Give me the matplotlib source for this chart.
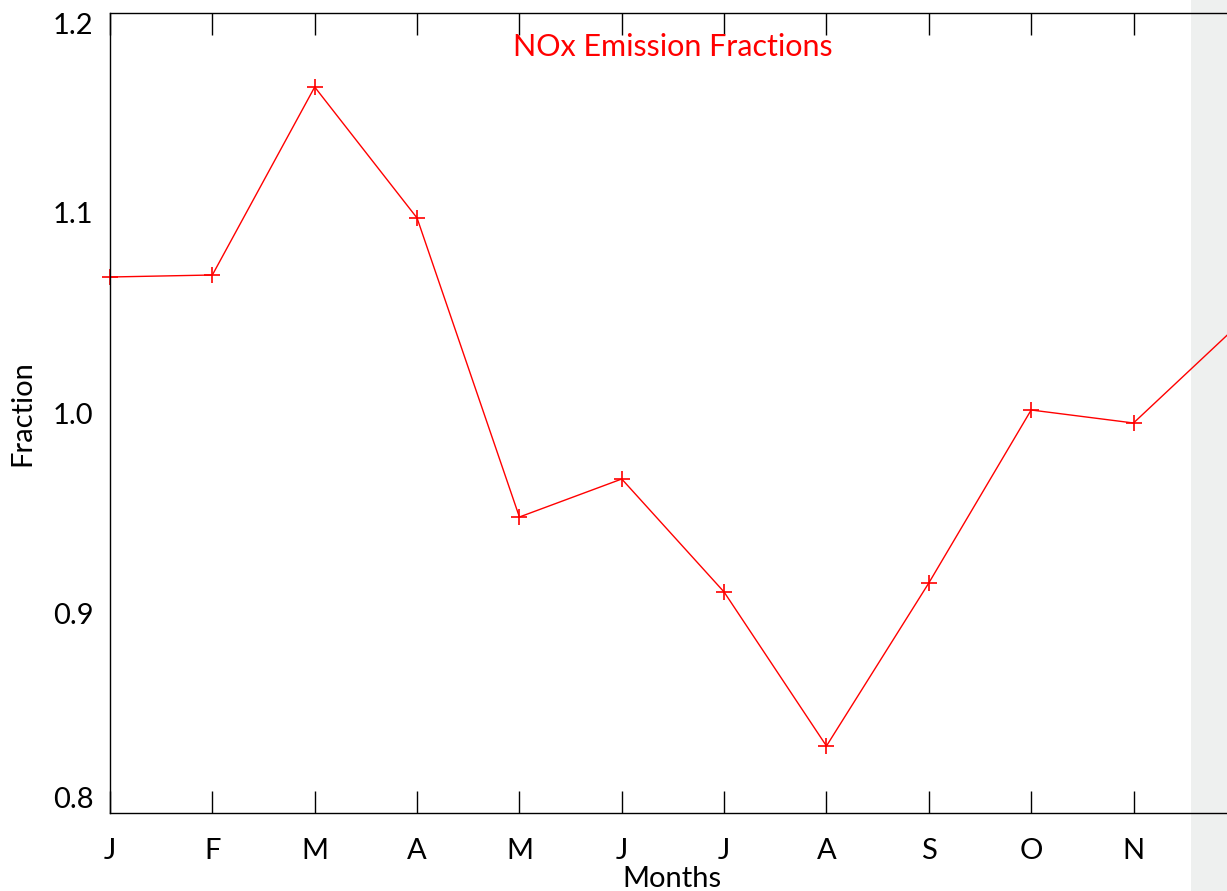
import matplotlib.pyplot as plt
from matplotlib.patches import Rectangle
import numpy as np

months = ['J', 'F', 'M', 'A', 'M', 'J', 'J', 'A', 'S', 'O', 'N', 'D']
fraction = [1.068, 1.069, 1.163, 1.0975, 0.948, 0.967, 0.9105, 0.8335,
            0.915, 1.0015, 0.995, 1.043]
yticks = [0.8, 0.9, 1.0, 1.1, 1.2]

W, H = 1227, 891
fig = plt.figure(figsize=(W / 100, H / 100), dpi=100)
plt.rcParams['font.family'] = ['Lato', 'DejaVu Sans']

# gray strip on the right edge, behind the plot
fig.patches.append(Rectangle((1191 / W, 0), 1 - 1191 / W, 1, transform=fig.transFigure,
                             facecolor='#eef0ef', edgecolor='none', zorder=-10))

x0, x1 = 110, 110 + 11 * 102.35
ax = fig.add_axes([x0 / W, (H - 813) / H, (x1 - x0) / W, 800 / H])
ax.patch.set_visible(False)

x = np.arange(len(months))
ax.plot(x, fraction, color='red', lw=1.0, marker='+', ms=12, mew=1.2, clip_on=False)

ax.set_xlim(0, 11)
ax.set_ylim(0.8, 1.2)
ax.set_xticks(x)
ax.set_xticklabels(months)
ax.set_yticks(yticks)
ax.set_yticklabels(['0.8', '0.9', '1.0', '1.1', '1.2'])

ax.tick_params(axis='x', direction='in', length=16, width=1, top=True,
               labelsize=21, pad=18, colors='black')
ax.tick_params(axis='y', length=0, labelsize=21, pad=12)
labs = ax.get_yticklabels()
labs[0].set_va('bottom')
labs[-1].set_va('top')
ax.get_xticklabels()[-1].set_visible(False)  # D falls off the canvas

for s in ax.spines.values():
    s.set_linewidth(1.0)
    s.set_color('black')
ax.spines['right'].set_visible(False)

ax.text(0.5, 1 - 34 / 800, 'NOx Emission Fractions', transform=ax.transAxes,
        ha='center', va='center', color='red', fontsize=22)
fig.text(672 / W, 1 - 879 / H, 'Months', ha='center', va='center', fontsize=21)
fig.text(22 / W, 1 - 413 / H, 'Fraction', ha='center', va='center',
         rotation=90, fontsize=21)

fig.savefig('out.png', dpi=100)
